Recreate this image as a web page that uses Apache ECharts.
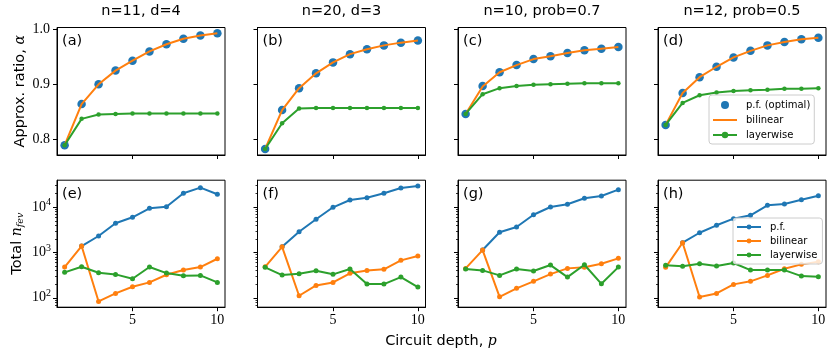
<!DOCTYPE html>
<html><head><meta charset="utf-8">
<script src="https://cdn.jsdelivr.net/npm/echarts@6/dist/echarts.min.js"></script>
<style>html,body{margin:0;padding:0;background:#fff}#c{width:831px;height:358px}</style>
</head><body><div id="c"></div>
<script>
// ---------------- data ----------------
const depths = [1, 2, 3, 4, 5, 6, 7, 8, 9, 10];
const panelTitles = ['n=11, d=4', 'n=20, d=3', 'n=10, prob=0.7', 'n=12, prob=0.5'];
const topLabels = ['(a)', '(b)', '(c)', '(d)'];
const bottomLabels = ['(e)', '(f)', '(g)', '(h)'];
const depthTicks = [5, 10];
const ratioTicks = [0.8, 0.9, 1.0];
const nfevTicks = [100, 1000, 10000];
const nfevMinorTicks = [70, 80, 90, 200, 300, 400, 500, 600, 700, 800, 900,
  2000, 3000, 4000, 5000, 6000, 7000, 8000, 9000, 20000, 30000];

// approximation ratio (top row)
const ratioPF_a = [0.789, 0.864, 0.900, 0.925, 0.943, 0.960, 0.973, 0.983, 0.989, 0.993];
const ratioBil_a = [0.789, 0.864, 0.900, 0.925, 0.943, 0.960, 0.973, 0.983, 0.989, 0.993];
const ratioLw_a = [0.789, 0.837, 0.845, 0.846, 0.847, 0.847, 0.847, 0.847, 0.847, 0.847];

const ratioPF_b = [0.782, 0.853, 0.893, 0.920, 0.940, 0.955, 0.964, 0.971, 0.976, 0.980];
const ratioBil_b = [0.782, 0.853, 0.893, 0.920, 0.940, 0.955, 0.964, 0.971, 0.976, 0.980];
const ratioLw_b = [0.782, 0.829, 0.856, 0.857, 0.857, 0.857, 0.857, 0.857, 0.857, 0.857];

const ratioPF_c = [0.846, 0.897, 0.922, 0.935, 0.946, 0.951, 0.957, 0.962, 0.965, 0.968];
const ratioBil_c = [0.846, 0.896, 0.922, 0.935, 0.946, 0.951, 0.957, 0.962, 0.965, 0.968];
const ratioLw_c = [0.846, 0.882, 0.893, 0.897, 0.899, 0.900, 0.901, 0.902, 0.902, 0.902];

const ratioPF_d = [0.826, 0.884, 0.913, 0.932, 0.949, 0.961, 0.971, 0.977, 0.982, 0.985];
const ratioBil_d = [0.826, 0.884, 0.913, 0.932, 0.949, 0.961, 0.971, 0.977, 0.982, 0.985];
const ratioLw_d = [0.826, 0.866, 0.880, 0.885, 0.888, 0.889, 0.890, 0.892, 0.892, 0.893];

// total number of function evaluations (bottom row)
const nfevPF_e = [null, 1390, 2320, 4430, 6010, 9500, 10300, 20400, 27200, 19400];
const nfevBil_e = [477, 1390, 83, 125, 175, 219, 323, 410, 477, 729];
const nfevLw_e = [365, 485, 357, 329, 263, 480, 352, 307, 313, 219];

const nfevPF_f = [null, 1340, 2880, 5430, 10000, 14500, 16300, 20400, 26700, 29600];
const nfevBil_f = [485, 1340, 111, 188, 219, 347, 403, 425, 672, 838];
const nfevLw_f = [471, 318, 340, 396, 330, 432, 201, 201, 287, 173];

const nfevPF_g = [null, 1135, 2800, 3660, 6850, 10150, 11650, 15800, 17780, 24500];
const nfevBil_g = [447, 1135, 105, 162, 231, 334, 447, 471, 565, 745];
const nfevLw_g = [432, 403, 313, 432, 390, 529, 287, 537, 204, 477];

const nfevPF_h = [null, 1650, 2740, 4000, 5600, 6650, 11070, 11830, 14730, 18070];
const nfevBil_h = [471, 1650, 104, 125, 198, 231, 313, 439, 548, 626];
const nfevLw_h = [521, 496, 565, 502, 587, 410, 410, 410, 302, 292];

// ---------------- layout / style ----------------
const topPF = [ratioPF_a, ratioPF_b, ratioPF_c, ratioPF_d];
const topBil = [ratioBil_a, ratioBil_b, ratioBil_c, ratioBil_d];
const topLw = [ratioLw_a, ratioLw_b, ratioLw_c, ratioLw_d];
const botPF = [nfevPF_e, nfevPF_f, nfevPF_g, nfevPF_h];
const botBil = [nfevBil_e, nfevBil_f, nfevBil_g, nfevBil_h];
const botLw = [nfevLw_e, nfevLw_f, nfevLw_g, nfevLw_h];

const colLeft = [57, 257.5, 458, 658];
const W = 168;
const rowTop = [27.5, 180.2];
const rowH = [127.5, 127];
const C = { pf: '#1f77b4', bil: '#ff7f0e', lw: '#2ca02c' };
const SERIF = 'Liberation Serif';
const SANS = 'DejaVu Sans';
const ZW = '\u200b';

const pairs = arr => depths.map((p, i) => [p, arr[i]]).filter(d => d[1] != null);

const grid = [], xAxis = [], yAxis = [], series = [], graphic = [];

for (let r = 0; r < 2; r++) {
  for (let c = 0; c < 4; c++) {
    grid.push({ left: colLeft[c], top: rowTop[r], width: W, height: rowH[r],
      show: true, borderColor: '#000', borderWidth: 1, backgroundColor: 'transparent' });
  }
}
for (let i = 0; i < 8; i++) {
  const bottom = i >= 4;
  xAxis.push({
    type: 'value', gridIndex: i, min: 0.55, max: 10.45,
    axisLine: { show: true, lineStyle: { color: '#000', width: 1 } },
    axisTick: { show: true, length: 4, customValues: depthTicks, lineStyle: { color: '#000', width: 1 } },
    axisLabel: { show: bottom, customValues: depthTicks, margin: 6,
      fontFamily: SERIF, fontSize: 14, color: '#000' },
    splitLine: { show: false }
  });
}
// top row y axes
for (let c = 0; c < 4; c++) {
  const ax = {
    type: 'value', gridIndex: c, min: 0.7711, max: 1.0036,
    axisLine: { show: true, lineStyle: { color: '#000', width: 1 } },
    axisTick: { show: true, length: 4, customValues: ratioTicks, lineStyle: { color: '#000' } },
    axisLabel: { show: c === 0, customValues: ratioTicks, margin: 7,
      formatter: v => Number(v).toFixed(1), fontFamily: SERIF, fontSize: 14, color: '#000' },
    splitLine: { show: false }
  };
  if (c === 0) {
    ax.name = '{t|Approx. ratio, }{a|α}';
    ax.nameLocation = 'middle';
    ax.nameRotate = 90;
    ax.nameGap = 29;
    ax.nameTextStyle = { rich: {
      t: { fontFamily: SANS, fontSize: 14.5, color: '#000' },
      a: { fontFamily: 'DejaVu Serif', fontStyle: 'italic', fontSize: 14, color: '#000' }
    } };
  }
  yAxis.push(ax);
}
// bottom row y axes (major)
for (let c = 0; c < 4; c++) {
  const ax = {
    type: 'log', logBase: 10, gridIndex: 4 + c, min: 62, max: 39700,
    axisLine: { show: true, lineStyle: { color: '#000', width: 1 } },
    axisTick: { show: true, length: 4, customValues: nfevTicks, lineStyle: { color: '#000' } },
    axisLabel: { show: c === 0, customValues: nfevTicks, margin: 6,
      formatter: v => '{b|10}{s|' + Math.round(Math.log10(v)) + '}',
      rich: {
        b: { fontFamily: SERIF, fontSize: 14, color: '#000' },
        s: { fontFamily: SERIF, fontSize: 10, color: '#000', padding: [0, 0, 9, 0] }
      } },
    splitLine: { show: false }
  };
  if (c === 0) {
    ax.name = '{t|Total }{n|n}{s|fev}';
    ax.nameLocation = 'middle';
    ax.nameRotate = 90;
    ax.nameGap = 31;
    ax.nameTextStyle = { rich: {
      t: { fontFamily: SANS, fontSize: 14.5, color: '#000' },
      n: { fontFamily: 'DejaVu Serif', fontStyle: 'italic', fontSize: 14, color: '#000' },
      s: { fontFamily: 'DejaVu Serif', fontStyle: 'italic', fontSize: 9.5, color: '#000', padding: [7, 0, 0, 0] }
    } };
  }
  yAxis.push(ax);
}
// bottom row y axes (minor ticks)
for (let c = 0; c < 4; c++) {
  yAxis.push({
    type: 'log', logBase: 10, gridIndex: 4 + c, min: 62, max: 39700, position: 'left', offset: 0,
    axisLine: { show: false },
    axisTick: { show: true, length: 2, customValues: nfevMinorTicks, lineStyle: { color: '#000', width: 0.8 } },
    axisLabel: { show: false },
    splitLine: { show: false }
  });
}

const common = { animation: false, silent: true, emphasis: { disabled: true }, clip: false };
for (let c = 0; c < 4; c++) {
  series.push(Object.assign({ type: 'scatter', name: 'p.f. (optimal)', xAxisIndex: c, yAxisIndex: c,
    data: pairs(topPF[c]), symbol: 'circle', symbolSize: 8.5, itemStyle: { color: C.pf, opacity: 1 }, z: 2 }, common));
  series.push(Object.assign({ type: 'line', name: 'bilinear', xAxisIndex: c, yAxisIndex: c,
    data: pairs(topBil[c]), symbol: 'none', lineStyle: { color: C.bil, width: 2 }, itemStyle: { color: C.bil }, z: 3 }, common));
  series.push(Object.assign({ type: 'line', name: 'layerwise', xAxisIndex: c, yAxisIndex: c,
    data: pairs(topLw[c]), symbol: 'circle', symbolSize: 4.5, showSymbol: true,
    lineStyle: { color: C.lw, width: 2 }, itemStyle: { color: C.lw }, z: 4 }, common));
}
for (let c = 0; c < 4; c++) {
  const xi = 4 + c, yi = 4 + c;
  series.push(Object.assign({ type: 'line', name: 'p.f.', xAxisIndex: xi, yAxisIndex: yi,
    data: pairs(botPF[c]), symbol: 'circle', symbolSize: 5, showSymbol: true,
    lineStyle: { color: C.pf, width: 2 }, itemStyle: { color: C.pf }, z: 2 }, common));
  series.push(Object.assign({ type: 'line', name: 'bilinear' + ZW, xAxisIndex: xi, yAxisIndex: yi,
    data: pairs(botBil[c]), symbol: 'circle', symbolSize: 5, showSymbol: true,
    lineStyle: { color: C.bil, width: 2 }, itemStyle: { color: C.bil }, z: 3 }, common));
  series.push(Object.assign({ type: 'line', name: 'layerwise' + ZW, xAxisIndex: xi, yAxisIndex: yi,
    data: pairs(botLw[c]), symbol: 'circle', symbolSize: 5, showSymbol: true,
    lineStyle: { color: C.lw, width: 2 }, itemStyle: { color: C.lw }, z: 4 }, common));
}

// titles and panel labels
for (let c = 0; c < 4; c++) {
  graphic.push({ type: 'text', x: colLeft[c] + W / 2, y: 11, silent: true,
    style: { text: panelTitles[c], align: 'center', verticalAlign: 'middle', font: '14.5px "DejaVu Sans"', fill: '#000' } });
  graphic.push({ type: 'text', x: colLeft[c] + 5, y: rowTop[0] + 14, silent: true,
    style: { text: topLabels[c], align: 'left', verticalAlign: 'middle', font: '14.5px "DejaVu Sans"', fill: '#000' } });
  graphic.push({ type: 'text', x: colLeft[c] + 5, y: rowTop[1] + 14, silent: true,
    style: { text: bottomLabels[c], align: 'left', verticalAlign: 'middle', font: '14.5px "DejaVu Sans"', fill: '#000' } });
}
graphic.push({ type: 'text', x: 441, y: 341, silent: true,
  style: { rich: {
      t: { fontFamily: SANS, fontSize: 14.5, fill: '#000' },
      p: { fontFamily: 'DejaVu Serif', fontStyle: 'italic', fontSize: 14, fill: '#000' } },
    text: '{t|Circuit depth, }{p|p}', align: 'center', verticalAlign: 'middle' } });

const legendBase = {
  orient: 'vertical', itemWidth: 24, selectedMode: false,
  backgroundColor: 'rgba(255,255,255,0.8)', borderColor: '#cccccc', borderWidth: 1, borderRadius: 3,
  textStyle: { fontFamily: SANS, fontSize: 10, color: '#000', padding: [0, 0, 0, 4] },
  formatter: n => n.replace(ZW, ''), z: 10
};
const legend = [
  Object.assign({}, legendBase, { left: 709, top: 95, itemHeight: 8, itemGap: 5, padding: [5, 4, 4, 3],
    data: [ { name: 'p.f. (optimal)', itemStyle: { opacity: 1 } },
            { name: 'bilinear', itemStyle: { color: 'rgba(0,0,0,0)', borderWidth: 0 } },
            { name: 'layerwise' } ] }),
  Object.assign({}, legendBase, { left: 733, top: 218, itemHeight: 6, itemGap: 4, padding: [4, 5, 4, 3],
    data: [ { name: 'p.f.' }, { name: 'bilinear' + ZW }, { name: 'layerwise' + ZW } ] })
];

const chart = echarts.init(document.getElementById('c'), null, { renderer: 'canvas', width: 831, height: 358 });
chart.setOption({ animation: false, backgroundColor: '#fff', grid, xAxis, yAxis, series, graphic, legend });
</script>
</body></html>
